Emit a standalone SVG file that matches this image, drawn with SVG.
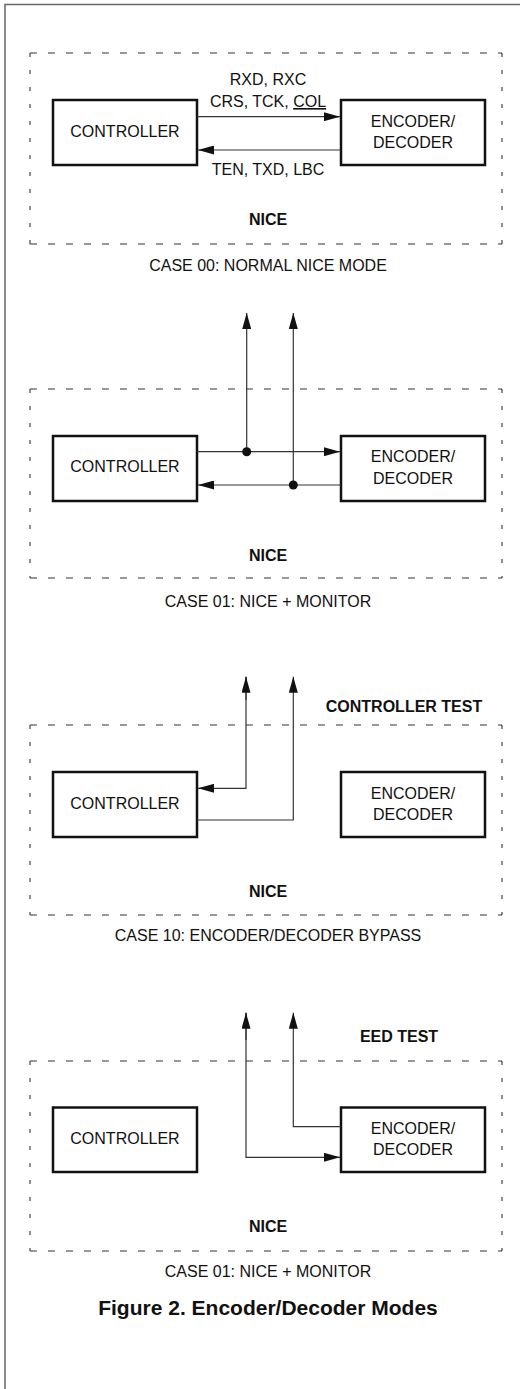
<svg xmlns="http://www.w3.org/2000/svg" width="520" height="1389" viewBox="0 0 520 1389">
<defs>
<style>
.frame{fill:none;stroke:#666;stroke-width:1.5}
.dh{fill:none;stroke:#333;stroke-width:1.1;stroke-dasharray:7 11}
.dv{fill:none;stroke:#333;stroke-width:1.1;stroke-dasharray:4 13}
.box{fill:#fff;stroke:#111;stroke-width:2.5}
.ln{fill:none;stroke:#333;stroke-width:1.2}
.t{font-family:"Liberation Sans",Arial,sans-serif;font-size:16px;fill:#111;text-anchor:middle}
.b{font-family:"Liberation Sans",Arial,sans-serif;font-size:16px;font-weight:bold;fill:#111;text-anchor:middle}
.title{font-family:"Liberation Sans",Arial,sans-serif;font-size:21px;font-weight:bold;fill:#111;text-anchor:middle}
.dot{fill:#111}
</style>
<marker id="ah" markerUnits="userSpaceOnUse" markerWidth="16" markerHeight="9" refX="16" refY="4.5" orient="auto">
<path d="M0,0 L16,4.5 L0,9 z" fill="#111"/>
</marker>
</defs>
<path class="frame" d="M5,1390 V4.5 H521"/>

<!-- CASE 00 -->
<g id="case00">
<g id="nice00">
<path class="dh" d="M30,53 H502 M30,244 H502"/>
<path class="dv" d="M30,53 V244 M502,53 V244"/>
<text class="b" x="268" y="225">NICE</text>
</g>
<g id="controller00"><rect class="box" x="53" y="100" width="144" height="65"/><text class="t" x="125" y="136.7">CONTROLLER</text></g>
<g id="encoder00"><rect class="box" x="341" y="100" width="144" height="65"/><text class="t" x="413" y="126.7">ENCODER/</text><text class="t" x="413" y="147.7">DECODER</text></g>
<text class="t" x="268" y="85">RXD, RXC</text>
<text class="t" x="268" y="107">CRS, TCK, <tspan text-decoration="underline">COL</tspan></text>
<text class="t" x="268" y="175">TEN, TXD, LBC</text>
<text class="t" x="268" y="271">CASE 00: NORMAL NICE MODE</text>
</g>

<!-- CASE 01 -->
<g id="case01">
<g id="nice01">
<path class="dh" d="M30,389 H502 M30,578 H502"/>
<path class="dv" d="M30,389 V578 M502,389 V578"/>
<text class="b" x="268" y="561">NICE</text>
</g>
<g id="controller01"><rect class="box" x="53" y="436" width="144" height="65"/><text class="t" x="125" y="472">CONTROLLER</text></g>
<g id="encoder01"><rect class="box" x="341" y="436" width="144" height="65"/><text class="t" x="413" y="462">ENCODER/</text><text class="t" x="413" y="483.5">DECODER</text></g>
<text class="t" x="268" y="607">CASE 01: NICE + MONITOR</text>
</g>

<!-- CASE 10 -->
<g id="case10">
<g id="nice10">
<path class="dh" d="M30,725 H502 M30,915 H502"/>
<path class="dv" d="M30,725 V915 M502,725 V915"/>
<text class="b" x="268" y="897">NICE</text>
</g>
<g id="controller10"><rect class="box" x="53" y="772" width="144" height="65"/><text class="t" x="125" y="808.5">CONTROLLER</text></g>
<g id="encoder10"><rect class="box" x="341" y="772" width="144" height="65"/><text class="t" x="413" y="798.5">ENCODER/</text><text class="t" x="413" y="819.5">DECODER</text></g>
<text class="b" x="404" y="711.7">CONTROLLER TEST</text>
<text class="t" x="268" y="941">CASE 10: ENCODER/DECODER BYPASS</text>
</g>

<!-- CASE 11 -->
<g id="case11">
<g id="nice11">
<path class="dh" d="M30,1061 H502 M30,1251 H502"/>
<path class="dv" d="M30,1061 V1251 M502,1061 V1251"/>
<text class="b" x="268" y="1232">NICE</text>
</g>
<g id="controller11"><rect class="box" x="53" y="1107.5" width="144" height="64.5"/><text class="t" x="125" y="1143.5">CONTROLLER</text></g>
<g id="encoder11"><rect class="box" x="341" y="1107.5" width="144" height="64.5"/><text class="t" x="413" y="1133.5">ENCODER/</text><text class="t" x="413" y="1155">DECODER</text></g>
<text class="b" x="399" y="1041.7">EED TEST</text>
<text class="t" x="268" y="1277">CASE 01: NICE + MONITOR</text>
</g>

<g id="connectors">
<line class="ln" x1="197" y1="116.7" x2="340" y2="116.7" marker-end="url(#ah)"/>
<line class="ln" x1="341" y1="150" x2="198" y2="150" marker-end="url(#ah)"/>

<line class="ln" x1="197" y1="451.7" x2="340" y2="451.7" marker-end="url(#ah)"/>
<line class="ln" x1="341" y1="485" x2="198" y2="485" marker-end="url(#ah)"/>
<line class="ln" x1="246.7" y1="451.7" x2="246.7" y2="313" marker-end="url(#ah)"/>
<line class="ln" x1="293.3" y1="485" x2="293.3" y2="313" marker-end="url(#ah)"/>
<circle class="dot" cx="246.7" cy="451.7" r="4.5"/>
<circle class="dot" cx="293.3" cy="485" r="4.5"/>

<polyline class="ln" points="246,676.7 246,788.3 198,788.3" marker-end="url(#ah)"/>
<line class="ln" x1="246" y1="700" x2="246" y2="676.7" marker-end="url(#ah)"/>
<polyline class="ln" points="197,820 293.3,820 293.3,676.7" marker-end="url(#ah)"/>

<polyline class="ln" points="341,1126.7 293.3,1126.7 293.3,1012.7" marker-end="url(#ah)"/>
<polyline class="ln" points="246,1012.7 246,1157.3 340,1157.3" marker-end="url(#ah)"/>
<line class="ln" x1="246" y1="1040" x2="246" y2="1012.7" marker-end="url(#ah)"/>
</g>

<text class="title" x="268" y="1315">Figure 2. Encoder/Decoder Modes</text>
</svg>
